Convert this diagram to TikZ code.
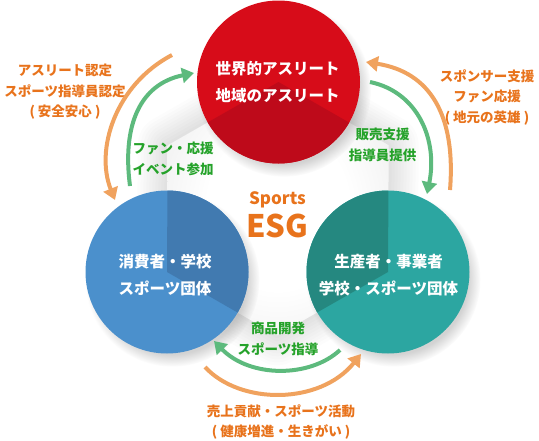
\documentclass[tikz,border=0pt]{standalone}
\usepackage{fontspec}
\setmainfont{Noto Sans CJK JP}
\usetikzlibrary{arrows.meta,shadows,fadings}
\definecolor{cred}{HTML}{D70C19}
\definecolor{credd}{HTML}{BE0A1A}
\definecolor{cblue}{HTML}{4B90CC}
\definecolor{cblued}{HTML}{417AB0}
\definecolor{cteal}{HTML}{2CA6A1}
\definecolor{cteald}{HTML}{258880}
\definecolor{ctxtor}{HTML}{E8731C}
\definecolor{carror}{HTML}{F0A25E}
\definecolor{ctxtgr}{HTML}{25A22A}
\definecolor{carrgr}{HTML}{5DBA7D}
\pgfdeclareradialshading{hexshade}{\pgfpoint{0bp}{0bp}}{color(0bp)=(white); color(16bp)=(white); color(38bp)=(black!9); color(50bp)=(black!9)}
\begin{document}
\begin{tikzpicture}[x=1pt,y=-1pt,
 ball/.style={circle, minimum size=163pt, inner sep=0pt,
   circular drop shadow={shadow xshift=5pt, shadow yshift=-7pt, shadow scale=1.07, opacity=0.35}},
 balltxt/.style={text=white, font=\fontsize{15.5}{27}\selectfont\bfseries, align=center},
 glabel/.style={text=ctxtgr, font=\fontsize{13.5}{21}\selectfont\bfseries, align=center},
 olabel/.style={text=ctxtor, font=\fontsize{13.5}{20.5}\selectfont\bfseries, align=center},
 oarrow/.style={draw=carror, line width=4pt, -{Triangle[length=12pt,width=15pt]}},
 garrow/.style={draw=carrgr, line width=4pt, -{Triangle[length=12pt,width=15pt]}},
 halo/.style={draw=black, opacity=0.011, line join=round},
]
\useasboundingbox (0,0) rectangle (539,440);
% hexagon vertices
\coordinate (cR) at (278.5,82);
\coordinate (cB) at (167,272);
\coordinate (cT) at (388,272);
\coordinate (hL) at (167.7,145.3);
\coordinate (hR) at (388.7,145.3);
\coordinate (hD) at (277.2,335.3);
% hexagon shadow halo
\foreach \w in {6,12,...,60}
  \draw[halo, line width=\w pt] (cR) -- (hR) -- (cT) -- (hD) -- (cB) -- (hL) -- cycle;
\shade[shading=hexshade] (cR) -- (hR) -- (cT) -- (hD) -- (cB) -- (hL) -- cycle;
% circles
\node[ball, fill=cred] (red) at (cR) {};
\node[ball, fill=cblue] (blue) at (cB) {};
\node[ball, fill=cteal] (teal) at (cT) {};
\begin{scope}
  \clip (cR) -- (hR) -- (cT) -- (hD) -- (cB) -- (hL) -- cycle;
  \fill[credd] (cR) circle[radius=81.5];
  \fill[cblued] (cB) circle[radius=81.5];
  \fill[cteald] (cT) circle[radius=81.5];
\end{scope}
% circle texts
\node[balltxt] (redtxt) at (277.5,82) {世界的アスリート\\地域のアスリート};
\node[balltxt] (bluetxt) at (165,275) {消費者・学校\\スポーツ団体};
\node[balltxt] (tealtxt) at (388.5,275) {生産者・事業者\\学校・スポーツ団体};
% centre
\node[text=ctxtor, font=\fontsize{17}{17}\selectfont\bfseries] (sports) at (277.5,200) {Sports};
\node[text=ctxtor, font=\fontsize{31}{31}\selectfont\bfseries] (esg) at (277.5,226) {ESG};
% labels
\node[olabel] (oltxt) at (65,92) {アスリート認定\\スポーツ指導員認定\\( 安全安心 )};
\node[olabel] (ortxt) at (487,97) {スポンサー支援\\ファン応援\\( 地元の英雄 )};
\node[olabel] (obtxt) at (281,422) {売上貢献・スポーツ活動\\( 健康増進・生きがい )};
\node[glabel] (gltxt) at (173,159) {ファン・応援\\イベント参加};
\node[glabel] (grtxt) at (382.5,144.5) {販売支援\\指導員提供};
\node[glabel] (gbtxt) at (278,339) {商品開発\\スポーツ指導};
% arrow ends
\coordinate (oLs) at (172,55);   \coordinate (oLe) at (115,200);
\coordinate (gLs) at (130,186);  \coordinate (gLe) at (194,73);
\coordinate (oRs) at (450,190);  \coordinate (oRe) at (366,62);
\coordinate (gRs) at (370,82);   \coordinate (gRe) at (427,194);
\coordinate (gBs) at (340,350);  \coordinate (gBe) at (214,341);
\coordinate (oBs) at (205,367);  \coordinate (oBe) at (361,354);
% arrows
\draw[oarrow] (oLs) .. controls (115,85) and (95,150) .. (oLe);
\draw[garrow] (gLs) .. controls (122,125) and (140,84) .. (gLe);
\draw[oarrow] (oRs) .. controls (456,115) and (430,72) .. (oRe);
\draw[garrow] (gRs) .. controls (418,92) and (438,140) .. (gRe);
\draw[garrow] (gBs) .. controls (310,378) and (250,378) .. (gBe);
\draw[oarrow] (oBs) .. controls (240,405) and (320,405) .. (oBe);
\end{tikzpicture}
\end{document}
